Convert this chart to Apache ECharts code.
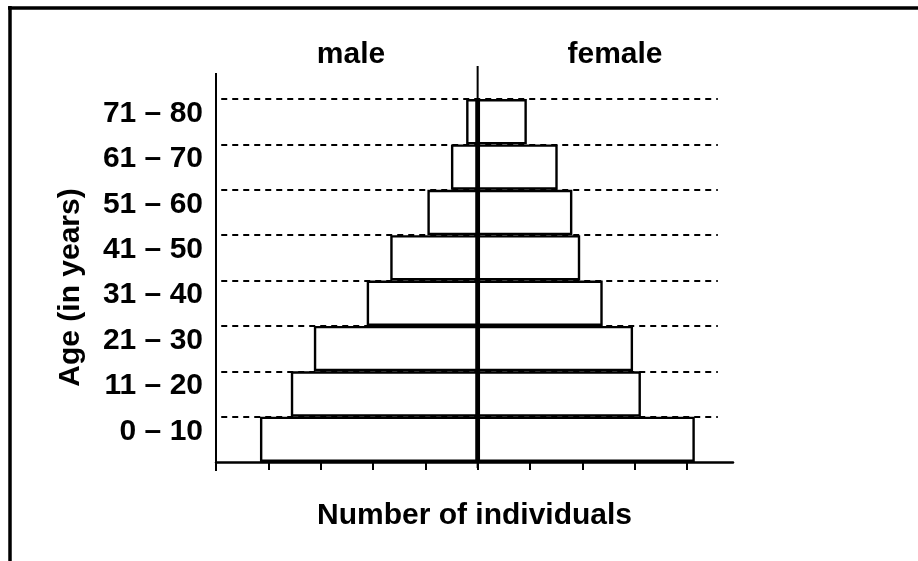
<!DOCTYPE html>
<html>
<head>
<meta charset="utf-8">
<script src="https://cdn.jsdelivr.net/npm/echarts@6/dist/echarts.min.js"></script>
<style>
html, body { margin: 0; padding: 0; background: #fff; }
#chart { width: 918px; height: 561px; }
</style>
</head>
<body>
<div id="chart"></div>
<script>
// age groups, bottom to top
var ageGroups = ['0 – 10', '11 – 20', '21 – 30', '31 – 40', '41 – 50', '51 – 60', '61 – 70', '71 – 80'];
var maleCounts = [41.6, 35.7, 31.3, 21.2, 16.7, 9.6, 5.1, 2.2];
var femaleCounts = [41.5, 31.2, 29.7, 23.9, 19.6, 18.1, 15.3, 9.4];
var tickValues = [-50, -40, -30, -20, -10, 0, 10, 20, 30, 40];
var groupEdges = [1, 2, 3, 4, 5, 6, 7, 8];
var xMin = -50, xMax = 48.8;
var dashFrom = -49, dashTo = 45.9;

var font = "'Liberation Sans', Arial, Helvetica, sans-serif";
var bigText = { color: '#000', fontSize: 30, fontWeight: 'bold', fontFamily: font };

var chart = echarts.init(document.getElementById('chart'));

var dashLines = [];
for (var i = 0; i < groupEdges.length; i++) {
    dashLines.push([{ coord: [dashFrom, groupEdges[i]] }, { coord: [dashTo, groupEdges[i]] }]);
}

var option = {
    animation: false,
    title: [
        { text: 'male', left: 351, top: 40, padding: 0, textAlign: 'center', textStyle: bigText },
        { text: 'female', left: 615, top: 40, padding: 0, textAlign: 'center', textStyle: bigText }
    ],
    grid: { left: 216, right: 185, top: 99, bottom: 99 },
    xAxis: {
        type: 'value',
        min: xMin,
        max: xMax,
        interval: 10,
        axisLine: { show: true, lineStyle: { color: '#000', width: 2.5 } },
        axisTick: { show: true, length: 8, customValues: tickValues, lineStyle: { color: '#000', width: 2 } },
        axisLabel: { show: false },
        splitLine: { show: false },
        name: 'Number of individuals',
        nameLocation: 'middle',
        nameGap: 39,
        nameTextStyle: bigText
    },
    yAxis: [
        {
            type: 'category',
            data: ageGroups,
            axisLine: { show: false },
            axisTick: { show: false },
            splitLine: { show: false },
            axisLabel: {
                margin: 13,
                color: '#000', fontSize: 30, fontWeight: 'bold', fontFamily: font,
                verticalAlign: 'bottom',
                lineHeight: 16
            },
            name: 'Age (in years)',
            nameLocation: 'middle',
            nameGap: 130,
            nameTextStyle: { color: '#000', fontSize: 30, fontWeight: 'bold', fontFamily: font, padding: [0, 14, 0, 0] }
        },
        { type: 'value', min: 0, max: 8, show: false }
    ],
    series: [
        {
            name: 'male',
            type: 'bar',
            stack: 'pyramid',
            barCategoryGap: '0%',
            data: maleCounts.map(function (v) { return -v; }),
            itemStyle: { color: '#fff', borderColor: '#000', borderWidth: 2.4 },
            z: 3
        },
        {
            name: 'female',
            type: 'bar',
            stack: 'pyramid',
            barCategoryGap: '0%',
            data: femaleCounts,
            itemStyle: { color: '#fff', borderColor: '#000', borderWidth: 2.4 },
            z: 3
        },
        {
            name: 'edges',
            type: 'line',
            yAxisIndex: 1,
            data: [],
            markLine: {
                z: 1,
                silent: true,
                symbol: 'none',
                label: { show: false },
                lineStyle: { color: '#000', width: 2, type: [6, 5] },
                data: dashLines
            }
        }
    ]
};
chart.setOption(option);

// axis lines that run past the plot area
var xLeft = chart.convertToPixel({ xAxisIndex: 0 }, xMin);
var xZero = chart.convertToPixel({ xAxisIndex: 0 }, 0);
var yTop = chart.convertToPixel({ yAxisIndex: 1 }, 8);
var yBottom = chart.convertToPixel({ yAxisIndex: 1 }, 0);

chart.setOption({
    graphic: [
        { type: 'line', z: 10, shape: { x1: xLeft, y1: yTop - 26, x2: xLeft, y2: yBottom + 9 }, style: { stroke: '#000', lineWidth: 2 } },
        { type: 'line', z: 10, shape: { x1: xZero, y1: yTop - 33, x2: xZero, y2: yBottom + 6 }, style: { stroke: '#000', lineWidth: 2 } },
        { type: 'line', z: 10, shape: { x1: 8, y1: 8, x2: 918, y2: 8 }, style: { stroke: '#000', lineWidth: 3.5 } },
        { type: 'line', z: 10, shape: { x1: 10, y1: 6, x2: 10, y2: 561 }, style: { stroke: '#000', lineWidth: 3.5 } }
    ]
});
</script>
</body>
</html>
